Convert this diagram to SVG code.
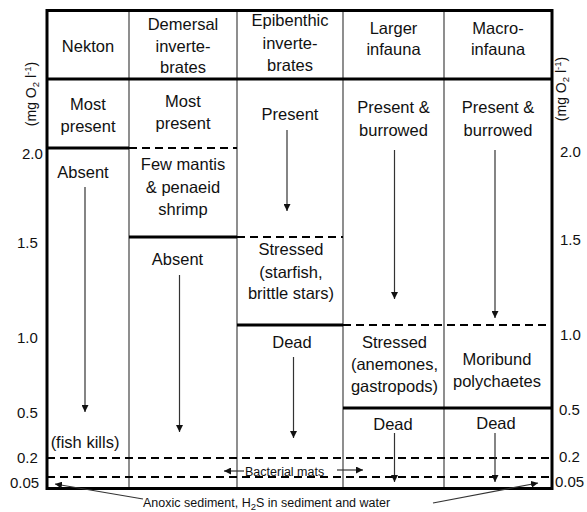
<svg xmlns="http://www.w3.org/2000/svg" width="587" height="512" viewBox="0 0 587 512">
<style>
text{font-family:"Liberation Sans",Arial,sans-serif;fill:#111}
.t{font-size:16.5px;text-anchor:middle}
.s{font-size:15px}
.ax{font-size:14px;text-anchor:middle}
.sm{font-size:12.5px}
.sub{font-size:9.5px}
.thick{stroke:#000;stroke-width:3;fill:none}
.thin{stroke:#444;stroke-width:1.2;fill:none}
.dash{stroke:#000;stroke-width:2;stroke-dasharray:8 5;fill:none}
.arr{stroke:#333;stroke-width:1.2;fill:none;marker-end:url(#ah)}
</style>
<defs>
<marker id="ah" viewBox="0 0 10 10" refX="10" refY="5" markerWidth="7" markerHeight="7" markerUnits="userSpaceOnUse" orient="auto">
<path d="M0,0 L10,5 L0,10 z" fill="#111"/>
</marker>
</defs>
<rect width="587" height="512" fill="#fff"/>
<g id="grid">
<line class="thin" x1="129" y1="10" x2="129" y2="489"/>
<line class="thin" x1="237" y1="10" x2="237" y2="489"/>
<line class="thin" x1="343" y1="10" x2="343" y2="489"/>
<line class="thin" x1="444" y1="10" x2="444" y2="489"/>
<line class="dash" x1="129" y1="148" x2="237" y2="148"/>
<line class="dash" x1="237" y1="237" x2="343" y2="237"/>
<line class="dash" x1="343" y1="325" x2="552" y2="325"/>
<line class="dash" x1="47" y1="458" x2="552" y2="458"/>
<line class="dash" x1="47" y1="477" x2="552" y2="477"/>
<line class="thick" x1="47" y1="148" x2="129" y2="148"/>
<line class="thick" x1="129" y1="237" x2="237" y2="237"/>
<line class="thick" x1="237" y1="325" x2="343" y2="325"/>
<line class="thick" x1="343" y1="408" x2="552" y2="408"/>
<line class="thick" x1="47" y1="79" x2="552" y2="79"/>
<rect class="thick" x="47" y="10.5" width="505" height="478"/>
</g>
<g id="axis-left">
<text class="ax" transform="translate(36,94) rotate(-90)">(mg O<tspan class="sub" dy="3">2</tspan><tspan dy="-3"> l</tspan><tspan class="sub" dy="-5">-1</tspan><tspan dy="5">)</tspan></text>
<text class="s" x="22" y="159">2.0</text>
<text class="s" x="17" y="248">1.5</text>
<text class="s" x="17" y="343">1.0</text>
<text class="s" x="17" y="418">0.5</text>
<text class="s" x="17" y="463">0.2</text>
<text class="s" x="10" y="488">0.05</text>
</g>
<g id="axis-right">
<text class="ax" transform="translate(566,89) rotate(-90)">(mg O<tspan class="sub" dy="3">2</tspan><tspan dy="-3"> l</tspan><tspan class="sub" dy="-5">-1</tspan><tspan dy="5">)</tspan></text>
<text class="s" x="560" y="157">2.0</text>
<text class="s" x="560" y="245">1.5</text>
<text class="s" x="560" y="340">1.0</text>
<text class="s" x="559" y="415">0.5</text>
<text class="s" x="559" y="462">0.2</text>
<text class="s" x="555" y="487">0.05</text>
</g>
<g id="nekton">
<text class="t" x="88" y="52">Nekton</text>
<text class="t" x="88" y="110">Most</text>
<text class="t" x="88" y="132">present</text>
<text class="t" x="83" y="178">Absent</text>
<text class="t" x="85" y="448">(fish kills)</text>
</g>
<g id="demersal">
<text class="t" x="183" y="30">Demersal</text>
<text class="t" x="183" y="52">inverte-</text>
<text class="t" x="183" y="73">brates</text>
<text class="t" x="183" y="107">Most</text>
<text class="t" x="183" y="129">present</text>
<text class="t" x="183" y="170">Few mantis</text>
<text class="t" x="183" y="193">&amp; penaeid</text>
<text class="t" x="183" y="215">shrimp</text>
<text class="t" x="177.5" y="265">Absent</text>
</g>
<g id="epibenthic">
<text class="t" x="290" y="26">Epibenthic</text>
<text class="t" x="290" y="49">inverte-</text>
<text class="t" x="290" y="71">brates</text>
<text class="t" x="290" y="120">Present</text>
<text class="t" x="291" y="255">Stressed</text>
<text class="t" x="291" y="278">(starfish,</text>
<text class="t" x="291" y="299">brittle stars)</text>
<text class="t" x="292" y="348">Dead</text>
</g>
<g id="larger-infauna">
<text class="t" x="393.5" y="34">Larger</text>
<text class="t" x="393.5" y="55">infauna</text>
<text class="t" x="393.5" y="113">Present &amp;</text>
<text class="t" x="393.5" y="136">burrowed</text>
<text class="t" x="394.5" y="348">Stressed</text>
<text class="t" x="394.5" y="370">(anemones,</text>
<text class="t" x="394.5" y="392">gastropods)</text>
<text class="t" x="393" y="430">Dead</text>
</g>
<g id="macro-infauna">
<text class="t" x="498" y="34">Macro-</text>
<text class="t" x="498" y="55">infauna</text>
<text class="t" x="498" y="113">Present &amp;</text>
<text class="t" x="498" y="136">burrowed</text>
<text class="t" x="497" y="365">Moribund</text>
<text class="t" x="497" y="387">polychaetes</text>
<text class="t" x="496" y="429">Dead</text>
</g>
<g id="bottom-labels">
<text class="sm" x="245" y="476" font-size="13">Bacterial mats</text>
<text class="sm" x="143" y="507">Anoxic sediment, H<tspan class="sub" dy="3">2</tspan><tspan dy="-3">S in sediment and water</tspan></text>
</g>
<g id="connectors">
<line class="arr" x1="85" y1="187" x2="85" y2="412"/>
<line class="arr" x1="179.5" y1="275" x2="179.5" y2="432"/>
<line class="arr" x1="287" y1="130" x2="287" y2="211"/>
<line class="arr" x1="293.5" y1="357" x2="293.5" y2="438"/>
<line class="arr" x1="394.5" y1="150" x2="394.5" y2="299"/>
<line class="arr" x1="495" y1="150" x2="495" y2="318"/>
<line class="arr" x1="394.5" y1="433" x2="394.5" y2="482"/>
<line class="arr" x1="495" y1="433" x2="495" y2="482"/>
<line class="arr" x1="244" y1="471" x2="224" y2="471"/>
<line class="arr" x1="337" y1="470" x2="363" y2="470"/>
<line class="arr" x1="143" y1="499" x2="55" y2="484"/>
<line class="arr" x1="433" y1="503" x2="538" y2="483"/>
</g>
</svg>
